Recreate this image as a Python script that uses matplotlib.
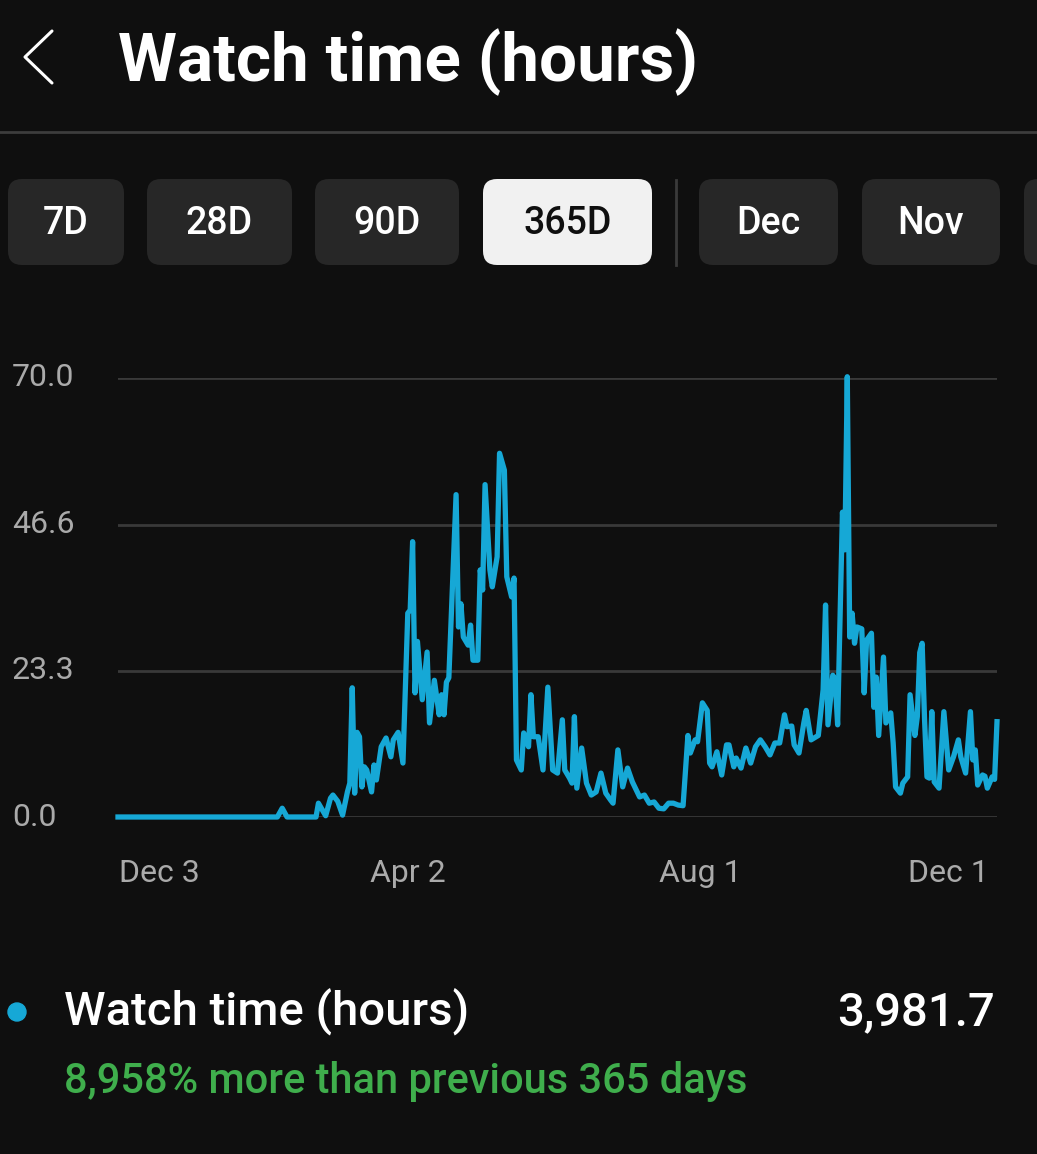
import matplotlib
matplotlib.use("Agg")
import matplotlib.pyplot as plt
from matplotlib.patches import FancyBboxPatch, Circle

plt.rcParams['font.family'] = ['Roboto', 'DejaVu Sans']

# day offsets from the start of the 365-day window, and watch hours on those days
days = [0, 66, 68, 70, 82, 83, 86, 88, 89, 91, 93, 95, 96, 97, 98, 99, 100, 101,
        102, 103, 105, 106, 107, 109, 111, 113, 114, 116, 118, 120, 121, 122, 123,
        124, 126, 128, 129, 131, 133, 134, 135, 136, 137, 140, 141, 142, 143, 145,
        146, 147, 149, 150, 151, 152, 154, 155, 157, 158, 160, 161, 163, 164, 165,
        167, 168, 170, 171, 172, 174, 176, 178, 180, 182, 184, 185, 187, 188, 189,
        190, 192, 194, 196, 198, 200, 202, 204, 205, 207, 209, 211, 213, 216, 218,
        220, 222, 224, 226, 228, 230, 232, 234, 236, 237, 239, 240, 242, 244, 245,
        246, 248, 250, 252, 253, 255, 256, 258, 260, 262, 264, 266, 268, 270, 272,
        274, 276, 277, 279, 280, 282, 284, 285, 287, 290, 292, 293, 294, 296, 297,
        298, 300, 301, 302, 303, 304, 305, 306, 308, 309, 310, 312, 313, 314, 315,
        317, 318, 320, 321, 322, 324, 325, 327, 328, 330, 331, 332, 333, 334, 335,
        336, 337, 338, 340, 342, 344, 346, 348, 349, 351, 353, 354, 355, 356, 358,
        359, 360, 362, 363, 364]
hours = [0.0, 0.0, 1.4, 0.0, 0.0, 2.2, 0.2, 3.0, 3.5, 2.5, 0.3, 4.0, 5.4, 20.6, 3.8, 13.5, 12.8, 4.8,
         8.0, 7.5, 4.0, 8.3, 5.9, 11.2, 12.6, 9.6, 12.3, 13.5, 8.6, 32.5, 33.0, 43.9, 19.8,
         28.0, 18.7, 26.3, 15.0, 21.8, 16.3, 19.5, 16.3, 21.5, 22.2, 51.4, 30.3, 34.0, 28.7, 27.4,
         30.6, 25.0, 25.0, 39.4, 36.2, 53.0, 39.4, 36.7, 41.5, 58.0, 55.3, 38.3, 35.1, 38.1, 9.1,
         7.5, 13.4, 11.2, 19.5, 12.8, 12.8, 7.5, 20.7, 7.5, 7.0, 15.5, 7.5, 6.2, 5.4, 16.0,
         4.6, 11.0, 5.4, 3.5, 4.0, 7.0, 3.8, 2.7, 2.2, 10.7, 4.8, 7.8, 5.6, 3.2, 3.5,
         2.2, 2.4, 1.4, 1.3, 2.2, 2.2, 1.9, 1.8, 13.0, 10.2, 12.3, 12.0, 18.2, 17.0, 8.6,
         8.0, 10.4, 6.7, 11.5, 11.5, 8.0, 9.4, 7.8, 11.0, 8.6, 11.2, 12.3, 11.2, 9.9, 11.8,
         11.8, 16.3, 14.4, 14.5, 11.5, 10.2, 15.0, 17.0, 12.3, 13.0, 20.3, 33.8, 14.7, 22.6, 21.8,
         14.7, 48.6, 42.6, 70.2, 28.7, 32.5, 27.7, 30.3, 30.0, 19.8, 28.2, 29.3, 17.5, 22.3, 13.0,
         25.5, 15.0, 16.6, 11.8, 4.8, 3.8, 5.4, 6.4, 19.5, 13.0, 16.0, 26.2, 27.7, 15.5, 6.4,
         6.2, 16.8, 5.6, 4.6, 16.8, 7.5, 9.6, 12.3, 9.6, 7.0, 16.8, 9.1, 10.7, 5.1, 6.7,
         6.5, 4.6, 6.4, 6.0, 15.2]

y_ticks = [0.0, 23.3, 46.6, 70.0]
x_tick_days = [17, 120, 241, 344]
x_tick_labels = ['Dec 3', 'Apr 2', 'Aug 1', 'Dec 1']
buttons = ['7D', '28D', '90D', '365D', 'Dec', 'Nov']
total_hours = '3,981.7'
change_text = '8,958% more than previous 365 days'

BG = '#0f0f0f'
LINE = '#16a8d6'
GRID = '#393939'
W, H = 1037, 1154

fig = plt.figure(figsize=(W / 100, H / 100), dpi=100, facecolor=BG)

# overlay axes in pixel coordinates for the app chrome
ui = fig.add_axes([0, 0, 1, 1])
ui.set_xlim(0, W)
ui.set_ylim(H, 0)
ui.axis('off')
ui.set_facecolor(BG)

ui.plot([52, 25, 52], [31, 57, 83], color='white', lw=2.2, solid_capstyle='round')
ui.text(118, 62, 'Watch time (hours)', color='white', fontsize=48.5, fontweight='bold',
        va='center', ha='left')
ui.plot([0, W], [132, 132], color='#3d3d3d', lw=2)

btn_x = [(8, 124), (147, 292), (315, 459), (483, 652), (699, 838), (862, 1000)]
for (x0, x1), label in zip(btn_x, buttons):
    active = label == '365D'
    box = FancyBboxPatch((x0 + 14, 179 + 14), x1 - x0 - 28, 86 - 28,
                         boxstyle='round,pad=14', facecolor='#f1f1f1' if active else '#272727',
                         edgecolor='none')
    ui.add_patch(box)
    ui.text((x0 + x1) / 2, 223, label, color='#0f0f0f' if active else 'white',
            fontsize=27, fontweight='medium', ha='center', va='center')
ui.add_patch(FancyBboxPatch((1024 + 14, 193), 40, 58, boxstyle='round,pad=14',
                            facecolor='#272727', edgecolor='none'))
ui.plot([676, 676], [180, 265], color='#3a3a3a', lw=2)

ui.add_patch(Circle((17, 1012), 9, color=LINE))
ui.text(64, 1012, 'Watch time (hours)', color='white', fontsize=34, fontweight='medium',
        va='center', ha='left')
ui.text(995, 1012, total_hours, color='white', fontsize=34, fontweight='medium',
        va='center', ha='right')
ui.text(64, 1082, change_text, color='#3fae4c', fontsize=30, fontweight='medium',
        va='center', ha='left')

# the chart itself
ax = fig.add_axes([118 / W, 1 - 817 / H, (997 - 118) / W, (817 - 378) / H])
ax.set_facecolor('none')
ax.plot(days, hours, color=LINE, lw=3.8, solid_joinstyle='round', clip_on=False, zorder=3)
ax.set_xlim(0, 364)
ax.set_ylim(0, 70)
ax.set_yticks(y_ticks)
ax.set_yticklabels([])
for v in y_ticks:
    ax.axhline(v, color=GRID, lw=2, zorder=1)
    ax.text(-0.1206, v, f'{v:.1f}', transform=ax.get_yaxis_transform(),
            color='#aaaaaa', fontsize=23, ha='left', va='center')
ax.set_xticks(x_tick_days)
ax.set_xticklabels(x_tick_labels)
ax.tick_params(axis='both', length=0, colors='#aaaaaa', labelsize=23)
ax.tick_params(axis='x', pad=30)
for s in ax.spines.values():
    s.set_visible(False)

fig.savefig('out.png', dpi=100, facecolor=BG)
